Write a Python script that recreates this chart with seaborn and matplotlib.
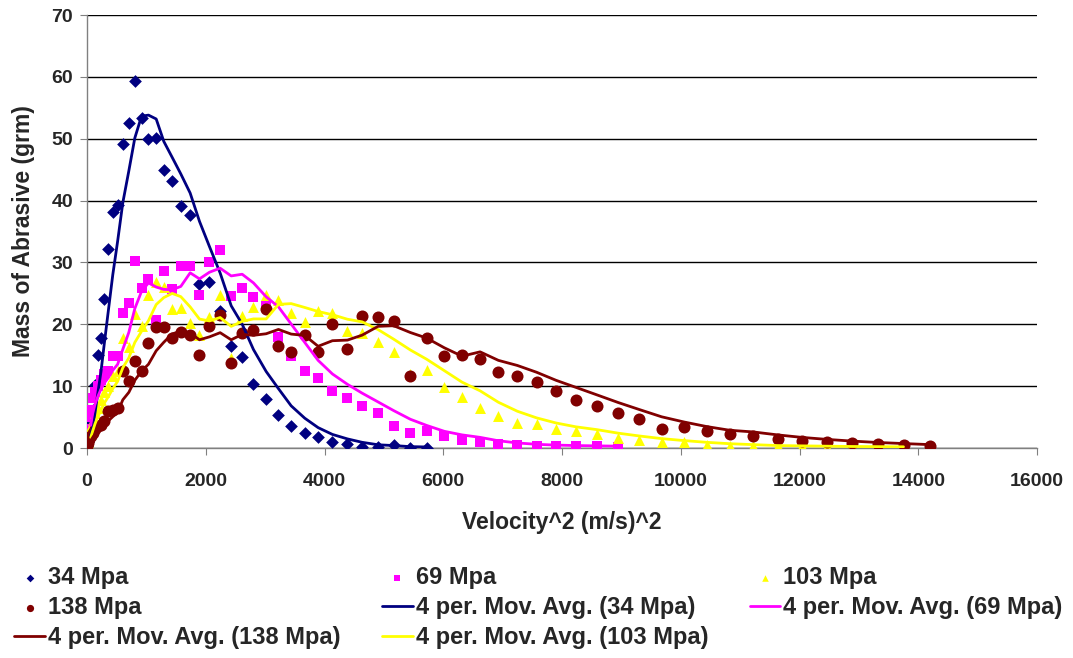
import matplotlib
matplotlib.use("Agg")
import matplotlib.pyplot as plt
import seaborn as sns
import numpy as np
import pandas as pd

# velocity^2 grid shared by all series
vel_sq = [4, 16, 36, 62, 95, 135, 182, 235, 290, 360, 434, 515, 603, 704, 805, 918,
          1035, 1165, 1293, 1434, 1579, 1737, 1894, 2062, 2242, 2428, 2613, 2803, 3017,
          3224, 3438, 3667, 3892, 4133, 4386, 4633, 4902, 5165, 5446, 5721, 6019, 6316,
          6620, 6928, 7247, 7572, 7899, 8236, 8586, 8948, 9301, 9677, 10059, 10434,
          10822, 11221, 11630, 12034, 12455, 12882, 13313, 13751, 14200]

mass_34 = [0.3, 1.0, 2.5, 4.0, 6.2, 10.2, 15.1, 17.8, 24.1, 32.1, 38.1, 39.3, 49.2, 52.6,
           59.4, 53.4, 49.9, 50.1, 44.9, 43.1, 39.2, 37.7, 26.6, 26.8, 22.1, 16.5, 14.7,
           10.4, 7.9, 5.4, 3.6, 2.4, 1.8, 1.0, 0.7, 0.2, 0.2, 0.5, 0.0, 0.0]

mass_69 = [0.5, 3.0, 5.0, 6.2, 8.1, 9.0, 10.0, 11.0, 12.0, 12.5, 14.8, 14.8, 21.8, 23.4,
           30.2, 25.9, 27.3, 20.7, 28.7, 25.7, 29.4, 29.5, 24.8, 30.0, 32.0, 24.5, 25.9,
           24.4, 23.0, 18.0, 14.8, 12.5, 11.4, 9.2, 8.1, 6.8, 5.7, 3.6, 2.5, 2.8, 1.9,
           1.3, 0.9, 0.6, 0.5, 0.4, 0.4, 0.3, 0.3, 0.2]

mass_103 = [0.3, 1.0, 2.0, 3.5, 4.5, 5.7, 6.5, 7.8, 9.0, 10.0, 11.6, 12.5, 17.8, 16.4,
            21.6, 19.7, 24.7, 26.8, 26.1, 22.4, 22.6, 20.2, 18.2, 21.2, 24.8, 14.5, 21.4,
            22.8, 24.8, 23.9, 21.9, 20.3, 22.2, 21.8, 19.0, 18.6, 17.2, 15.6, 12.0, 12.6,
            9.8, 8.2, 6.4, 5.2, 4.0, 3.9, 3.1, 2.7, 2.2, 1.6, 1.3, 1.0, 0.9, 0.5, 0.4,
            0.4, 0.3, 0.3, 0.2, 0.2, 0.2, 0.2]

mass_138 = [0.3, 0.8, 1.5, 2.0, 2.5, 3.0, 3.5, 3.8, 4.3, 6.0, 6.2, 6.5, 12.5, 10.8, 14.0,
            12.4, 17.0, 19.5, 19.5, 17.8, 18.8, 18.3, 15.1, 19.7, 21.5, 13.7, 18.6, 19.1,
            22.5, 16.5, 15.6, 18.2, 15.5, 20.1, 16.0, 21.4, 21.2, 20.5, 11.6, 17.8, 14.9,
            15.1, 14.4, 12.3, 11.6, 10.7, 9.2, 7.7, 6.8, 5.7, 4.7, 3.0, 3.4, 2.8, 2.3,
            1.9, 1.5, 1.2, 1.0, 0.8, 0.6, 0.5, 0.3]

series = [
    ("34 Mpa", mass_34, "D", "#000080", 42),
    ("69 Mpa", mass_69, "s", "#FF00FF", 55),
    ("103 Mpa", mass_103, "^", "#FFFF00", 62),
    ("138 Mpa", mass_138, "o", "#800000", 75),
]

sns.set_style("white")
plt.rcParams['font.family'] = ['Liberation Sans', 'DejaVu Sans']
plt.rcParams['font.weight'] = 'bold'

fig = plt.figure(figsize=(10.73, 6.58), dpi=100)
ax = fig.add_axes([0.0811, 0.3191, 0.8854, 0.658])

# points
for name, m, mk, col, sz in series:
    sns.scatterplot(x=vel_sq[:len(m)], y=m, marker=mk, color=col, s=sz,
                    edgecolor=col, linewidth=0, label=name, ax=ax, zorder=3)

# 4 period moving averages (like excel trendline)
for name, m, mk, col, sz in series:
    ma = pd.Series(m).rolling(4).mean()
    sns.lineplot(x=vel_sq[:len(m)], y=ma, color=col, linewidth=2.0,
                 label="4 per. Mov. Avg. (%s)" % name, ax=ax, zorder=4)

ax.set_xlim(0, 16000)
ax.set_ylim(0, 70)
ax.set_xticks(range(0, 16001, 2000))
ax.set_yticks(range(0, 71, 10))
ax.yaxis.grid(True, color="#000000", linewidth=1.0)
ax.set_axisbelow(True)
for s in ["top", "right"]:
    ax.spines[s].set_visible(False)
for s in ["left", "bottom"]:
    ax.spines[s].set_color("#808080")
    ax.spines[s].set_linewidth(1.0)
ax.tick_params(axis="both", direction="out", length=5, color="#808080",
               labelsize=14, bottom=True, left=True)
ax.tick_params(axis="x", pad=13)
ax.tick_params(axis="y", pad=5)
for lab in ax.get_xticklabels() + ax.get_yticklabels():
    lab.set_fontweight("bold")
ax.set_xlabel("Velocity^2 (m/s)^2", fontsize=16.5, fontweight="bold", labelpad=15)
ax.set_ylabel("Mass of Abrasive (grm)", fontsize=16.5, fontweight="bold", labelpad=12)

handles, labels = ax.get_legend_handles_labels()
ax.get_legend().remove()
order = [0, 3, 7, 1, 4, 6, 2, 5]
fig.legend([handles[i] for i in order], [labels[i] for i in order],
           ncol=3, loc="upper left", bbox_to_anchor=(-0.002, 0.165), frameon=False,
           prop={"size": 17, "weight": "bold"}, handlelength=1.3, handletextpad=0.13,
           columnspacing=1.75, labelspacing=0.3, markerscale=0.6, borderpad=0.2)

fig.savefig("out.png", dpi=100)
